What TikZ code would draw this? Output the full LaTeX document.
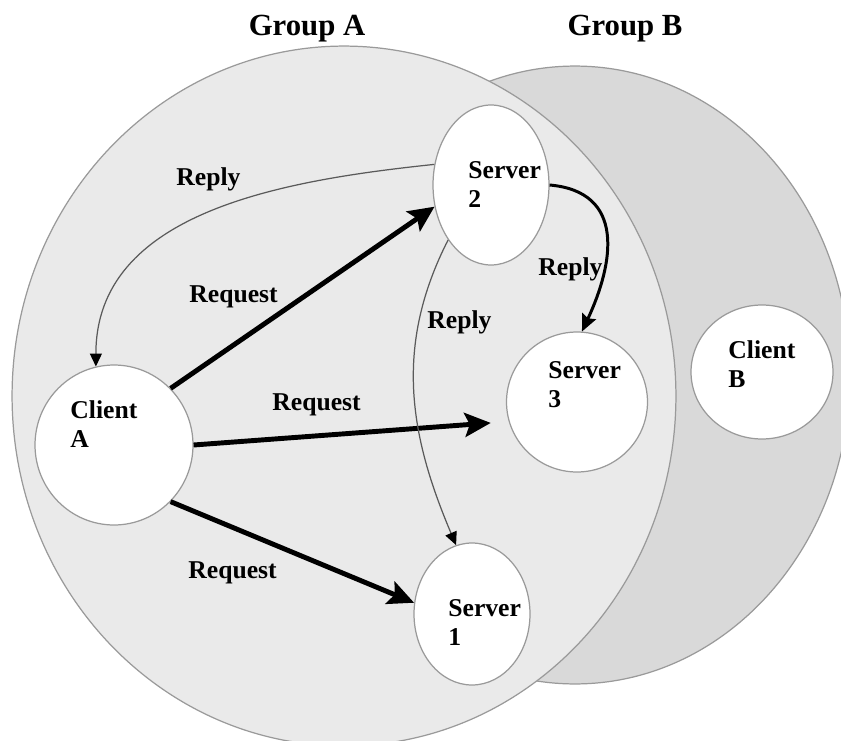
\documentclass[tikz,border=0pt]{standalone}
\usepackage{fontspec}
\setmainfont{Liberation Serif}
\usetikzlibrary{arrows.meta,shapes.geometric}

\definecolor{groupA}{HTML}{EAEAEA}
\definecolor{groupB}{HTML}{D9D9D9}
\definecolor{rim}{HTML}{9A9A9A}
\definecolor{thinline}{HTML}{5A5A5A}

\tikzset{
  host/.style 2 args={ellipse,draw=rim,line width=0.7pt,fill=white,inner sep=0pt,
    minimum width=#1,minimum height=#2},
  hostname/.style={anchor=base west,align=left,inner sep=0pt,
    font=\fontsize{14.6}{16.5}\selectfont\bfseries},
  msglabel/.style={anchor=base west,inner sep=0pt,font=\fontsize{14.6}{16.5}\selectfont\bfseries},
  grouptitle/.style={anchor=base,inner sep=0pt,font=\fontsize{17.5}{20}\selectfont\bfseries},
  request/.style={-{Stealth[length=5.2mm,width=4.8mm,inset=1mm]},line width=2.8pt},
  reply/.style={-{Triangle[length=2.6mm,width=2.4mm,color=black]},draw=thinline,line width=0.7pt},
  bigreply/.style={-{Stealth[length=3.4mm,width=3mm,inset=0.5mm]},line width=1.7pt}
}

\begin{document}
\begin{tikzpicture}[x=0.02cm,y=-0.02cm]
\useasboundingbox (0,0) rectangle (841,740);
\clip (0,0) rectangle (841,740);
% the two groups, B first so that A lies over it
\draw[rim,fill=groupB,line width=0.7pt] (575,375) ellipse [x radius=5.5cm,y radius=6.18cm];
\draw[rim,fill=groupA,line width=0.7pt] (344,396) ellipse [x radius=6.64cm,y radius=7cm];
\node[grouptitle] (ga) at (307,36) {Group A};
\node[grouptitle] (gb) at (625,36) {Group B};
% hosts (names sit on the baseline of their second line)
\node[host={3.16cm}{3.2cm}] (ca) at (114,445) {};
\node[host={2.32cm}{3.2cm}] (s2) at (491,185) {};
\node[host={2.82cm}{2.8cm}] (s3) at (577,402) {};
\node[host={2.32cm}{2.84cm}] (s1) at (472,614) {};
\node[host={2.84cm}{2.68cm}] (cb) at (762,372) {};
\node[hostname] (ca-name) at (70,447) {Client\\A};
\node[hostname] (s2-name) at (468,207) {Server\\2};
\node[hostname] (s3-name) at (548,407) {Server\\3};
\node[hostname] (s1-name) at (448,645) {Server\\1};
\node[hostname] (cb-name) at (728,387) {Client\\B};
% requests from client A
\draw[request] (ca.45) -- (s2.201);
\draw[request,shorten >=0.36cm] (ca.east) -- (s3.196);
\draw[request] (ca.-45) -- (s1.169);
\node[msglabel] (rq1) at (189,302) {Request};
\node[msglabel] (rq2) at (272,410) {Request};
\node[msglabel] (rq3) at (188,578) {Request};
% replies
\draw[reply] (s2.160) to[out=186,in=90] (ca.103);
\draw[reply] (s2.232) to[out=243,in=113] (s1.103);
\draw[bigreply] (s2.east) to[out=-5,in=65,looseness=1.3] (s3.86);
\node[msglabel] (rp1) at (176,185) {Reply};
\node[msglabel] (rp2) at (427,328) {Reply};
\node[msglabel] (rp3) at (538,275) {Reply};
\end{tikzpicture}
\end{document}
